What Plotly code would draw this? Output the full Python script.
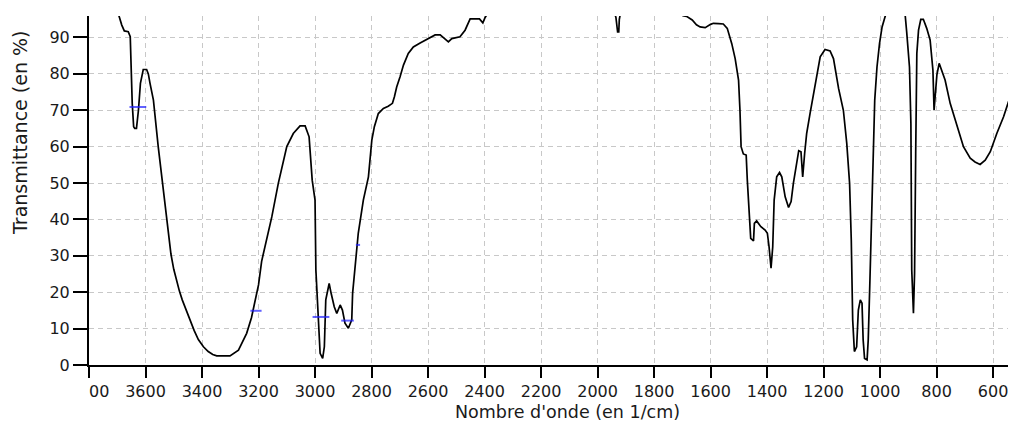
import plotly.graph_objects as go

# Spectrum (wavenumber in 1/cm, transmittance in %)
wavenumber = [3700, 3694, 3684, 3675, 3661, 3654, 3651, 3647, 3642, 3638, 3632, 3628, 3625, 3618, 3608,
              3596, 3590, 3584, 3572, 3555, 3539, 3525, 3517, 3510, 3500, 3490, 3480, 3470, 3456, 3442,
              3428, 3413, 3395, 3378, 3362, 3348, 3301,
              3271, 3242, 3225, 3212, 3200, 3189, 3153, 3130, 3100, 3077, 3053, 3035, 3021, 3010, 3000,
              2997, 2990, 2982, 2973, 2967, 2962, 2955, 2950, 2943, 2932, 2923, 2911, 2903, 2894, 2882,
              2870, 2867, 2858, 2847, 2829, 2811, 2799, 2790, 2776, 2758, 2741, 2726, 2719, 2711, 2699,
              2687, 2670, 2652, 2628, 2605, 2575, 2557, 2540, 2528, 2516, 2500, 2487, 2469, 2451, 2418,
              2406, 2398, 2390, 2370, 2100, 1945, 1940, 1935, 1929, 1925, 1923, 1918, 1800, 1710, 1698,
              1685, 1665, 1650, 1637, 1619, 1600, 1590, 1572, 1555, 1541, 1525, 1513, 1501, 1496, 1492,
              1484, 1474, 1470, 1463, 1458, 1448, 1445, 1437, 1422, 1407, 1399, 1393, 1386, 1380, 1375,
              1366, 1356, 1348, 1336, 1324, 1315, 1307, 1297, 1288, 1280, 1274, 1267, 1260, 1248, 1234,
              1224, 1212, 1195, 1177, 1165, 1147, 1130, 1118, 1108, 1102, 1097, 1091, 1083, 1077, 1070,
              1064, 1060, 1055, 1046, 1042, 1036, 1030, 1025, 1019, 1011, 1002, 993, 981, 970, 920,
              911, 906, 896, 891, 888, 882, 878, 874, 870, 864, 856, 847, 835, 823, 813,
              809, 804, 799, 791, 782, 770, 752, 728, 705, 681, 664, 646, 628, 610, 587,
              563, 540, 519]
transmittance = [97.5, 95.9, 93.4, 91.8, 91.6, 90.2, 81.0, 71.9, 65.5, 65.0, 65.0, 68.0, 70.0, 77.4, 81.2,
                 81.2, 80.0, 77.4, 72.8, 60.0, 49.9, 40.5, 35.0, 30.5, 26.3, 23.0, 20.3, 17.9, 15.0, 12.4,
                 9.5, 7.0, 5.0, 3.7, 2.9, 2.5, 2.5,
                 4.1, 8.7, 13.0, 17.5, 22.0, 28.5, 40.7, 49.9, 60.0, 63.6, 65.7, 65.7, 62.7, 50.8, 45.3,
                 26.1, 13.3, 3.2, 1.8, 5.0, 17.9, 20.6, 22.4, 19.7, 16.0, 14.2, 16.5, 15.1, 11.5, 10.1,
                 12.4, 19.7, 27.9, 36.2, 45.3, 51.7, 61.8, 65.5, 69.1, 70.5, 71.1, 71.9, 73.7, 76.4, 79.2,
                 82.4, 85.6, 87.4, 88.5, 89.5, 90.7, 90.7, 89.5, 88.8, 89.7, 90.0, 90.2, 92.0, 95.1, 95.1,
                 94.0, 95.5, 96.5, 98.5, 99.0, 98.0, 97.0, 95.5, 91.5, 91.5, 95.0, 97.0, 99.0, 97.0, 96.0,
                 95.8, 94.8, 93.5, 92.9, 92.7, 93.6, 93.9, 93.8, 93.7, 92.5, 88.3, 84.2, 78.3, 70.0, 60.0,
                 58.0, 57.7, 50.8, 41.7, 34.8, 34.1, 38.9, 39.6, 38.0, 37.1, 36.2, 32.5, 26.6, 32.5, 45.3,
                 51.7, 52.9, 51.7, 46.2, 43.3, 44.9, 49.9, 55.4, 58.9, 58.6, 51.7, 58.2, 63.6, 69.1, 75.5,
                 80.1, 84.7, 86.7, 86.3, 84.2, 76.0, 70.0, 60.9, 49.9, 34.3, 12.4, 3.7, 5.0, 15.1, 17.9,
                 17.0, 6.9, 1.8, 1.4, 6.9, 23.3, 40.7, 60.9, 72.8, 81.9, 88.4, 92.9, 95.9, 99.0, 99.0,
                 95.9, 91.6, 81.9, 66.4, 26.1, 14.2, 25.2, 58.2, 85.6, 92.0, 95.0, 95.0, 92.5, 89.3, 81.0,
                 70.0, 74.2, 79.7, 82.9, 81.0, 78.3, 71.9, 65.5, 60.0, 56.8, 55.8, 55.1, 56.3, 58.6, 63.6,
                 68.2, 73.7, 79.7]

# Blue peak marks
peak_wavenumber = [3627, 3209, 2979, 2885, 2848]
peak_transmittance = [70.9, 14.9, 13.2, 12.2, 33.0]

# Axis ticks
x_tick_vals = [3800, 3600, 3400, 3200, 3000, 2800, 2600, 2400, 2200, 2000, 1800, 1600, 1400, 1200, 1000, 800, 600]
x_tick_text = ["\u2007\u200700", "3600", "3400", "3200", "3000", "2800", "2600", "2400", "2200", "2000",
               "1800", "1600", "1400", "1200", "1000", "800", "600"]
y_tick_vals = [0, 10, 20, 30, 40, 50, 60, 70, 80, 90]

x_title = "Nombre d'onde (en 1/cm)"
y_title = "Transmittance (en %)"

FONT = "DejaVu Sans"
TXT = "#1a1a1a"

fig = go.Figure()
fig.add_trace(go.Scatter(x=wavenumber, y=transmittance, mode="lines",
                         line=dict(color="black", width=1.7), showlegend=False, hoverinfo="x+y"))
fig.add_trace(go.Scatter(x=peak_wavenumber, y=peak_transmittance, mode="markers",
                         marker=dict(symbol="line-ew", size=[12, 8, 12, 9, 3],
                                     line=dict(color="#2020ff", width=2)),
                         showlegend=False, hoverinfo="x+y"))

grid = dict(showgrid=True, gridcolor="#c8c8c8", gridwidth=1.3, griddash="5px,4px")

fig.update_xaxes(range=[3800, 519], tickmode="array", tickvals=x_tick_vals, ticktext=x_tick_text,
                 ticks="outside", ticklen=11, tickwidth=2, tickcolor="black",
                 showline=True, linecolor="black", linewidth=2, zeroline=False,
                 tickfont=dict(family=FONT, size=16, color=TXT), **grid)
fig.update_yaxes(range=[0, 95.9], tickmode="array", tickvals=y_tick_vals,
                 ticks="outside", ticklen=14, tickwidth=2, tickcolor="black",
                 showline=True, linecolor="black", linewidth=2, zeroline=False,
                 tickfont=dict(family=FONT, size=16, color=TXT), **grid)

fig.add_annotation(text=x_title, xref="paper", yref="paper", x=0.5157, y=-0.135,
                   xanchor="center", yanchor="middle", showarrow=False,
                   font=dict(family=FONT, size=17.5, color=TXT))
fig.add_annotation(text=y_title, xref="paper", yref="paper", x=-0.0744, y=0.665,
                   xanchor="center", yanchor="middle", showarrow=False, textangle=-90,
                   font=dict(family=FONT, size=19, color=TXT))

# The page body adds an 8px offset, so the figure is 8px smaller and its margins shifted
fig.update_layout(width=1008, height=424, margin=dict(l=81, r=0, t=8, b=67),
                  plot_bgcolor="white", paper_bgcolor="white",
                  font=dict(family=FONT, color=TXT))

fig.write_html("out.html")
